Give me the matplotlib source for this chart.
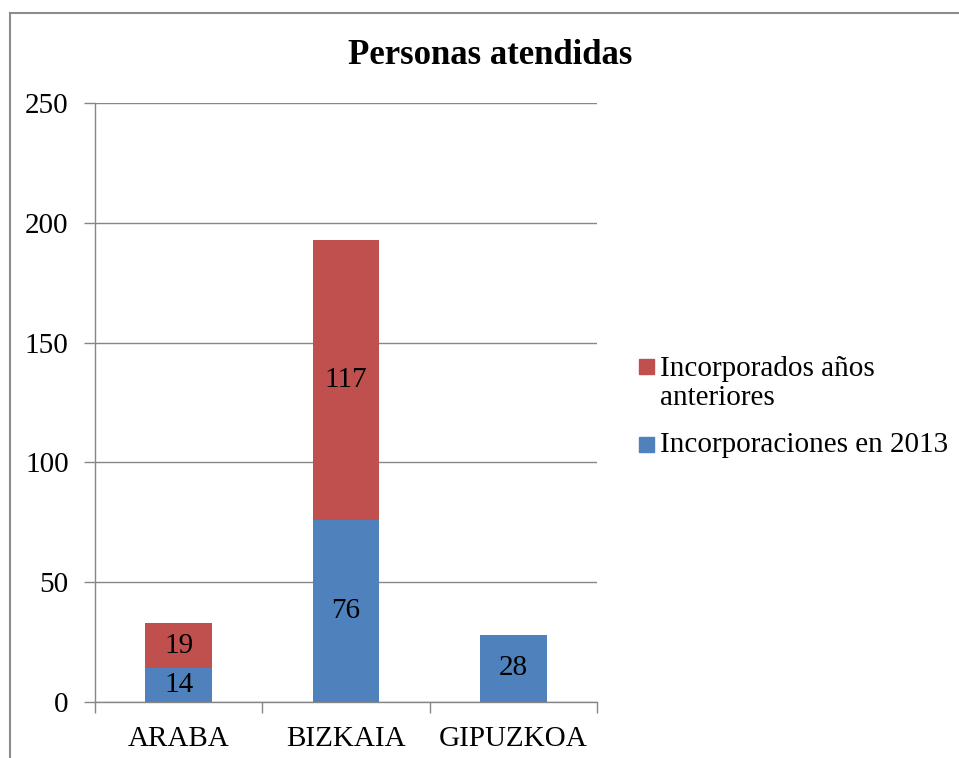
import matplotlib
matplotlib.use("Agg")
import matplotlib.pyplot as plt
from matplotlib.patches import Rectangle
from matplotlib.lines import Line2D

categories = ["ARABA", "BIZKAIA", "GIPUZKOA"]
nuevas = [14, 76, 28]          # Incorporaciones en 2013
anteriores = [19, 117, 0]      # Incorporados años anteriores
series_names = ["Incorporados años\nanteriores", "Incorporaciones en 2013"]
title = "Personas atendidas"
yticks = [0, 50, 100, 150, 200, 250]

blue = "#4F81BD"
red = "#C0504D"
gray = "#868686"
font = "Liberation Serif"
fs = 21

W, H = 959, 758
fig = plt.figure(figsize=(W / 100, H / 100), dpi=100)
ax = fig.add_axes([95 / W, 1 - 702 / H, (597 - 95) / W, (702 - 103) / H])

x = list(range(len(categories)))
b1 = ax.bar(x, nuevas, width=0.4, color=blue, zorder=3)
b2 = ax.bar(x, anteriores, width=0.4, bottom=nuevas, color=red, zorder=3)

for xi, v in zip(x, nuevas):
    if v:
        ax.text(xi, v / 2, str(v), ha="center", va="center", fontsize=fs, family=font, zorder=4)
for xi, v, b in zip(x, anteriores, nuevas):
    if v:
        ax.text(xi, b + v / 2, str(v), ha="center", va="center", fontsize=fs, family=font, zorder=4)

ax.set_xlim(-0.5, len(categories) - 0.5)
ax.set_ylim(0, 250)
ax.set_yticks(yticks)
ax.set_yticklabels([str(t) for t in yticks], fontsize=fs, family=font)
ax.set_xticks([i - 0.5 for i in range(len(categories) + 1)], minor=False)
ax.set_xticklabels([])
ax.set_xticks(x, minor=True)
ax.set_xticklabels(categories, minor=True, fontsize=fs, family=font)
ax.tick_params(axis="x", which="major", length=8, width=1, color=gray, direction="out")
ax.tick_params(axis="x", which="minor", length=0, pad=17)
ax.tick_params(axis="y", length=8, width=1, color=gray, direction="out", pad=11)
ax.yaxis.grid(True, color=gray, linewidth=1, zorder=0)
ax.set_axisbelow(True)
for s in ["top", "right"]:
    ax.spines[s].set_visible(False)
for s in ["left", "bottom"]:
    ax.spines[s].set_color(gray)
    ax.spines[s].set_linewidth(1)
    ax.spines[s].set_zorder(3.5)

fig.text(490 / W, 1 - 64 / H, title, ha="center", va="baseline", fontsize=25,
         family=font, fontweight="bold")

# legend (square top, baseline of the last text line)
leg_items = [(series_names[0], red, 359, 405), (series_names[1], blue, 437, 452)]
for name, col, ytop, ybase in leg_items:
    fig.patches.append(Rectangle((639 / W, 1 - (ytop + 15) / H), 15 / W, 15 / H,
                                 transform=fig.transFigure, color=col))
    fig.text(660 / W, 1 - ybase / H, name, ha="left", va="baseline", fontsize=fs,
             family=font, linespacing=1.17)

# outer border (top and left)
fig.add_artist(Line2D([10 / W, 1], [1 - 13 / H, 1 - 13 / H], transform=fig.transFigure,
                      color="#8c8c8c", linewidth=1.5))
fig.add_artist(Line2D([10 / W, 10 / W], [0, 1 - 13 / H], transform=fig.transFigure,
                      color="#8c8c8c", linewidth=1.5))

fig.savefig("out.png", dpi=100)
